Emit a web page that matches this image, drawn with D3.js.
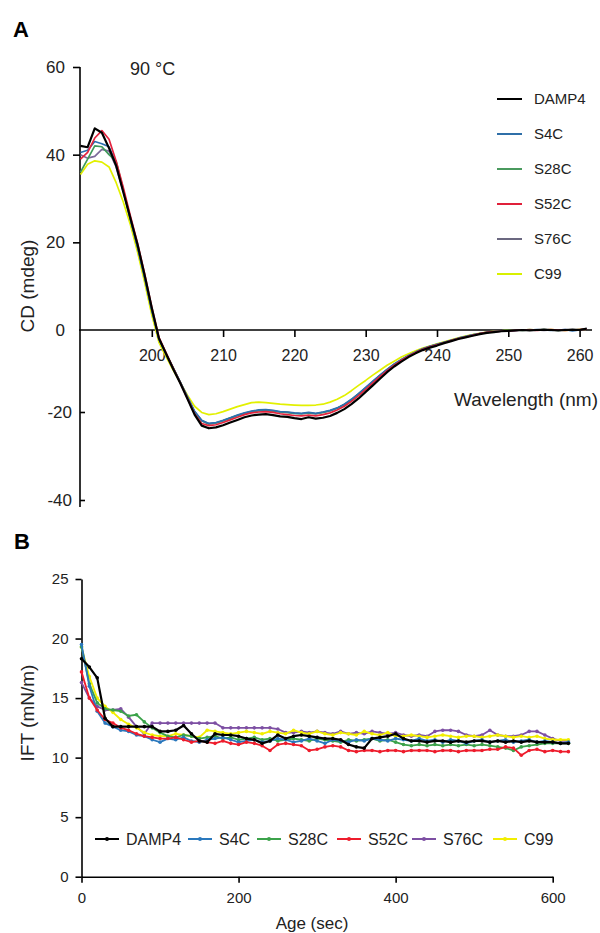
<!DOCTYPE html>
<html>
<head>
<meta charset="utf-8">
<script src="https://d3js.org/d3.v7.min.js"></script>
<style>
body { margin: 0; background: #fff; }
text { font-family: "Liberation Sans", Arial, sans-serif; fill: #222; }
.axis path, .axis line { stroke: #000; stroke-width: 1.6; }
</style>
</head>
<body>
<svg id="chart" width="600" height="933"></svg>
<script>
// ---------- panel A : CD spectra at 90 C ----------
var wavelength = [190,191,192,193,194,195,196,197,198,199,200,201,202,203,204,205,206,207,208,209,
  210,211,212,213,214,215,216,217,218,219,220,221,222,223,224,225,226,227,228,229,
  230,231,232,233,234,235,236,237,238,239,240,241,242,243,244,245,246,247,248,249,
  250,251,252,253,254,255,256,257,258,259,260,261];

var cdDAMP4 = [42.0,41.7,46.0,45.0,41.5,37.5,31.5,25.5,19.5,12.5,
  5.0,-2.0,-5.8,-9.5,-13.0,-16.8,-20.6,-23.1,-23.7,-23.5,
  -23.0,-22.4,-21.8,-21.2,-20.8,-20.6,-20.5,-20.7,-21.0,-21.1,
  -21.4,-21.6,-21.2,-21.5,-21.3,-20.9,-20.2,-19.3,-18.1,-16.7,
  -15.1,-13.5,-11.9,-10.3,-8.9,-7.7,-6.6,-5.7,-4.9,-4.3,
  -3.8,-3.2,-2.7,-2.2,-1.8,-1.4,-1.0,-0.7,-0.5,-0.3,
  -0.2,-0.1,0.0,-0.1,0.0,0.1,0.0,-0.1,0.0,0.1,0.0,0.3];
var cdS4C = [40.5,41.0,43.0,42.5,41.8,38.0,32.0,25.5,19.0,12.0,
  4.5,-2.2,-5.8,-9.3,-12.8,-16.3,-19.8,-21.9,-22.6,-22.4,
  -21.9,-21.3,-20.7,-20.2,-19.8,-19.5,-19.4,-19.6,-19.9,-20.0,
  -20.2,-20.3,-20.1,-20.3,-20.0,-19.6,-19.0,-18.1,-16.9,-15.5,
  -14.0,-12.5,-11.0,-9.6,-8.3,-7.2,-6.2,-5.4,-4.6,-4.0,
  -3.5,-3.0,-2.5,-2.0,-1.6,-1.2,-0.9,-0.6,-0.4,-0.3,
  -0.2,-0.1,0.0,0.0,0.1,0.0,-0.1,0.0,0.1,-0.2,0.0,0.3];
var cdS28C = [36.0,39.0,42.0,41.8,40.0,38.5,32.0,25.2,19.0,12.0,
  4.6,-2.1,-5.7,-9.2,-12.7,-16.4,-20.0,-22.0,-22.7,-22.5,
  -22.0,-21.4,-20.8,-20.3,-19.9,-19.7,-19.6,-19.8,-20.0,-20.1,
  -20.3,-20.4,-20.2,-20.4,-20.1,-19.7,-19.1,-18.2,-17.0,-15.6,
  -14.1,-12.6,-11.1,-9.7,-8.4,-7.3,-6.3,-5.4,-4.6,-4.0,
  -3.5,-3.0,-2.5,-2.0,-1.6,-1.2,-0.9,-0.6,-0.4,-0.2,
  -0.1,0.0,-0.1,0.0,0.0,0.1,0.0,-0.1,0.0,0.0,0.1,0.2];
var cdS52C = [39.0,40.5,43.8,45.5,43.5,38.5,32.5,26.0,19.8,12.8,
  5.2,-1.8,-5.6,-9.3,-12.9,-16.7,-20.4,-22.6,-23.1,-22.9,
  -22.4,-21.8,-21.2,-20.6,-20.2,-20.0,-19.9,-20.1,-20.4,-20.6,
  -20.8,-20.9,-20.7,-20.9,-20.6,-20.2,-19.5,-18.6,-17.4,-16.0,
  -14.5,-12.9,-11.4,-9.9,-8.6,-7.4,-6.4,-5.5,-4.7,-4.1,
  -3.6,-3.1,-2.6,-2.1,-1.7,-1.3,-0.9,-0.6,-0.4,-0.3,
  -0.2,-0.1,0.0,0.0,-0.1,0.0,0.1,0.0,-0.1,0.0,0.1,0.2];
var cdS76C = [40.0,39.2,39.6,41.2,40.8,37.2,31.6,25.2,18.9,11.9,
  4.5,-2.2,-5.8,-9.3,-12.8,-16.3,-19.9,-22.0,-22.7,-22.5,
  -22.0,-21.4,-20.8,-20.3,-19.9,-19.6,-19.5,-19.7,-20.0,-20.1,
  -20.3,-20.4,-20.2,-20.4,-20.1,-19.7,-19.1,-18.2,-17.0,-15.6,
  -14.1,-12.6,-11.1,-9.7,-8.4,-7.3,-6.3,-5.4,-4.7,-4.1,
  -3.6,-3.1,-2.6,-2.1,-1.7,-1.3,-0.9,-0.6,-0.4,-0.3,
  -0.2,-0.1,0.0,0.1,0.0,-0.1,0.0,0.0,0.1,0.0,0.0,0.2];
var cdC99 = [35.5,37.8,38.6,38.3,37.2,33.6,29.2,24.0,17.8,10.8,
  3.4,-3.0,-6.5,-9.8,-12.9,-15.9,-18.6,-20.1,-20.6,-20.4,
  -19.9,-19.3,-18.7,-18.2,-17.7,-17.6,-17.7,-17.9,-18.1,-18.2,
  -18.3,-18.4,-18.4,-18.3,-18.1,-17.6,-16.9,-16.0,-14.8,-13.5,
  -12.3,-11.0,-9.8,-8.6,-7.6,-6.6,-5.8,-5.1,-4.4,-3.9,
  -3.4,-2.9,-2.4,-1.9,-1.5,-1.1,-0.8,-0.5,-0.3,-0.2,
  -0.1,0.0,0.0,0.1,0.0,0.0,0.1,0.0,-0.1,0.0,0.1,0.2];

var cdNames = ["DAMP4","S4C","S28C","S52C","S76C","C99"];
var cdTicksY = [60,40,20,0,-20,-40];
var cdTicksX = [200,210,220,230,240,250,260];

// ---------- panel B : interfacial tension vs age ----------
var ageSec = [0,10,20,30,40,50,60,70,80,90,100,110,120,130,140,150,160,170,180,190,
  200,210,220,230,240,250,260,270,280,290,300,310,320,330,340,350,360,370,380,390,
  400,410,420,430,440,450,460,470,480,490,500,510,520,530,540,550,560,570,580,590,600,610,620];

var iftDAMP4 = [18.3,17.6,16.7,13.3,12.6,12.6,12.6,12.6,12.6,12.6,
  12.2,12.2,12.3,12.7,12.0,11.4,11.3,12.0,11.9,11.9,
  11.8,11.6,11.5,11.2,11.4,11.9,11.6,11.8,11.9,11.8,
  11.7,11.6,11.6,11.5,11.1,10.9,10.8,11.6,11.7,11.8,
  12.0,11.6,11.4,11.4,11.3,11.4,11.4,11.3,11.4,11.3,
  11.4,11.4,11.3,11.4,11.3,11.4,11.3,11.4,11.3,11.3,11.3,11.2,11.2];
var iftS4C = [19.5,16.0,13.9,12.9,12.6,12.3,12.2,11.9,11.8,11.5,
  11.3,11.6,11.5,11.7,11.4,11.3,11.5,11.6,11.7,11.5,
  11.3,11.4,11.5,11.3,11.4,11.6,11.5,11.3,11.4,11.6,
  11.4,11.2,11.5,11.4,11.3,11.5,11.4,11.6,11.5,11.4,
  11.6,11.5,11.4,11.6,11.4,11.5,11.3,11.5,11.4,11.2,
  11.4,11.5,11.3,11.4,11.5,11.3,11.4,11.5,11.3,11.4,11.3,11.2,11.3];
var iftS28C = [19.3,16.2,14.6,14.1,14.0,13.9,13.5,13.6,13.0,12.5,
  12.1,11.8,11.7,11.9,11.8,11.6,11.7,11.8,11.6,11.7,
  11.5,11.6,11.7,11.5,11.6,11.4,11.5,11.6,11.5,11.4,
  11.6,11.5,11.4,11.3,11.5,11.4,11.5,11.6,11.4,11.5,
  11.3,11.1,11.0,11.1,11.0,11.1,11.0,11.1,11.0,11.1,
  11.0,11.1,11.0,10.9,10.8,10.6,10.9,11.0,11.1,11.2,11.2,11.2,11.2];
var iftS52C = [17.2,15.0,14.0,13.2,12.9,12.5,12.3,12.0,11.8,11.7,
  11.6,11.6,11.7,11.5,11.3,11.4,11.3,11.2,11.4,11.2,
  11.1,11.3,11.2,11.0,10.6,11.1,11.2,11.1,11.0,10.6,
  10.7,10.9,11.0,10.9,10.6,10.5,10.6,10.6,10.5,10.6,
  10.6,10.5,10.6,10.6,10.6,10.5,10.6,10.6,10.5,10.6,
  10.6,10.6,10.7,10.7,10.9,10.8,10.2,10.6,10.7,10.5,10.6,10.5,10.5];
var iftS76C = [16.3,15.0,14.3,14.0,14.0,14.1,13.4,12.6,12.0,12.9,
  12.9,12.9,12.9,12.9,12.9,12.9,12.9,12.9,12.5,12.5,
  12.5,12.5,12.5,12.5,12.5,12.4,12.1,12.1,12.2,12.1,
  12.2,12.1,12.0,12.2,12.0,12.1,12.0,12.2,12.1,12.0,
  12.1,11.9,11.8,11.9,11.8,12.2,12.3,12.3,12.2,11.9,
  11.8,11.9,12.3,11.9,11.8,11.8,11.9,12.2,12.2,11.9,11.6,11.4,11.4];
var iftC99 = [19.3,16.8,15.0,14.3,13.8,13.2,12.8,12.5,12.1,11.9,
  11.8,11.8,12.0,11.9,11.8,11.7,12.3,12.2,12.1,12.0,
  12.1,12.2,12.1,12.0,12.2,12.1,12.0,12.3,12.1,12.0,
  12.2,12.0,11.9,12.1,12.0,11.9,12.2,12.0,11.9,12.1,
  11.8,11.8,11.9,11.8,11.7,11.8,11.9,11.8,11.7,11.8,
  11.8,11.7,11.8,11.9,11.8,11.7,11.8,11.7,11.8,11.6,11.5,11.5,11.5];

var iftNames = ["DAMP4","S4C","S28C","S52C","S76C","C99"];
var iftTicksY = [0,5,10,15,20,25];
var iftTicksX = [0,200,400,600];

// colours (styling, kept apart from the data)
var cdColors = ["#000000","#2c6fb0","#3f9a5a","#e3233d","#7c6a9a","#e2f000"];
var cdLegendColors = ["#000000","#2f6fa8","#4a9a5e","#e0203a","#6b6880","#d8f000"];
var iftColors = ["#000000","#2a78bd","#3ba24a","#ee1c2c","#7d4fa3","#f2ee00"];

var svg = d3.select("#chart");

// ================= panel A =================
var cdSeries = [cdDAMP4, cdS4C, cdS28C, cdS52C, cdS76C, cdC99];
var xA = d3.scaleLinear().domain([190, 261.6]).range([80.5, 591]);
var yA = d3.scaleLinear().domain([-40, -20, 0, 60]).range([500, 412, 330, 67]);

svg.append("text").attr("x", 13).attr("y", 37).text("A")
  .style("font-size", "22px").style("font-weight", "bold").style("fill", "#000");

var gyA = svg.append("g").attr("class", "axis").attr("transform", "translate(80,0)")
  .call(d3.axisLeft(yA).tickValues(cdTicksY).tickSize(7).tickPadding(8).tickFormat(function(d){return String(d);}));
gyA.select(".domain").remove();
gyA.append("line").attr("x1", 0).attr("x2", 0).attr("y1", yA(60)).attr("y2", 507).attr("stroke", "#000").attr("stroke-width", 1.8);
gyA.selectAll(".tick line").attr("x2", function(d){ return d < 0 ? 5 : (d === 0 ? 0 : -7); });
gyA.selectAll(".tick text").attr("x", function(d){ return d < 0 ? -8 : -15; })
  .style("font-size", "17px").style("fill", "#222");

var gxA = svg.append("g").attr("class", "axis").attr("transform", "translate(0," + yA(0) + ")")
  .call(d3.axisBottom(xA).tickValues(cdTicksX).tickSize(7).tickPadding(13).tickSizeOuter(0));
gxA.select(".domain").attr("d", "M79,0H592");
gxA.selectAll(".tick text").style("font-size", "16px").style("fill", "#222");

svg.append("text").attr("transform", "translate(34,286) rotate(-90)").attr("text-anchor", "middle")
  .text("CD (mdeg)").style("font-size", "19px");
svg.append("text").attr("x", 130).attr("y", 75).text("90 \u00B0C").style("font-size", "18px");
svg.append("text").attr("x", 598).attr("y", 406).attr("text-anchor", "end")
  .text("Wavelength (nm)").style("font-size", "19px");

var lineA = d3.line().x(function(d, i){ return xA(wavelength[i]); }).y(function(d){ return yA(d); });
var drawOrderA = [5, 4, 2, 1, 3, 0];
drawOrderA.forEach(function(k){
  svg.append("path").datum(cdSeries[k]).attr("d", lineA)
    .attr("fill", "none").attr("stroke", cdColors[k])
    .attr("stroke-width", k === 0 ? 2.2 : 1.7).attr("stroke-linejoin", "round");
});

var legA = svg.append("g");
cdNames.forEach(function(name, i){
  var yy = 99 + i * 35;
  legA.append("line").attr("x1", 497).attr("x2", 522).attr("y1", yy).attr("y2", yy)
    .attr("stroke", cdLegendColors[i]).attr("stroke-width", 2);
  legA.append("text").attr("x", 534).attr("y", yy + 5).text(name).style("font-size", "15px");
});

// ================= panel B =================
var iftSeries = [iftDAMP4, iftS4C, iftS28C, iftS52C, iftS76C, iftC99];
var xB = d3.scaleLinear().domain([0, 600]).range([81.5, 552.7]);
var yB = d3.scaleLinear().domain([0, 25]).range([876.7, 579]);

svg.append("text").attr("x", 14).attr("y", 549).text("B")
  .style("font-size", "22px").style("font-weight", "bold").style("fill", "#000");

var gyB = svg.append("g").attr("class", "axis").attr("transform", "translate(" + xB(0) + ",0)")
  .call(d3.axisLeft(yB).tickValues(iftTicksY).tickSize(6).tickPadding(7).tickSizeOuter(0));
gyB.selectAll(".tick text").style("font-size", "15px").style("fill", "#222");

var gxB = svg.append("g").attr("class", "axis").attr("transform", "translate(0," + yB(0) + ")")
  .call(d3.axisBottom(xB).tickValues(iftTicksX).tickSize(6).tickPadding(10).tickSizeOuter(0));
gxB.selectAll(".tick text").style("font-size", "15px").style("fill", "#222");

svg.append("text").attr("transform", "translate(34,713) rotate(-90)").attr("text-anchor", "middle")
  .text("IFT (mN/m)").style("font-size", "19px");
svg.append("text").attr("x", 312).attr("y", 929).attr("text-anchor", "middle")
  .text("Age (sec)").style("font-size", "17px");

var lineB = d3.line().x(function(d, i){ return xB(ageSec[i]); }).y(function(d){ return yB(d); });
var drawOrderB = [4, 5, 2, 1, 3, 0];
drawOrderB.forEach(function(k){
  var g = svg.append("g");
  g.append("path").datum(iftSeries[k]).attr("d", lineB)
    .attr("fill", "none").attr("stroke", iftColors[k])
    .attr("stroke-width", k === 0 ? 2.2 : 1.8).attr("stroke-linejoin", "round");
  g.selectAll("circle").data(iftSeries[k]).enter().append("circle")
    .attr("cx", function(d, i){ return xB(ageSec[i]); })
    .attr("cy", function(d){ return yB(d); })
    .attr("r", 1.8).attr("fill", iftColors[k]);
});

var legBx = [95, 188, 257, 337, 412, 493];
var legB = svg.append("g");
iftNames.forEach(function(name, i){
  var x0 = legBx[i], yy = 839;
  legB.append("line").attr("x1", x0).attr("x2", x0 + 24).attr("y1", yy).attr("y2", yy)
    .attr("stroke", iftColors[i]).attr("stroke-width", 2);
  legB.append("circle").attr("cx", x0 + 12).attr("cy", yy).attr("r", 2).attr("fill", iftColors[i]);
  legB.append("text").attr("x", x0 + 31).attr("y", yy + 6).text(name).style("font-size", "16px");
});
</script>
</body>
</html>
